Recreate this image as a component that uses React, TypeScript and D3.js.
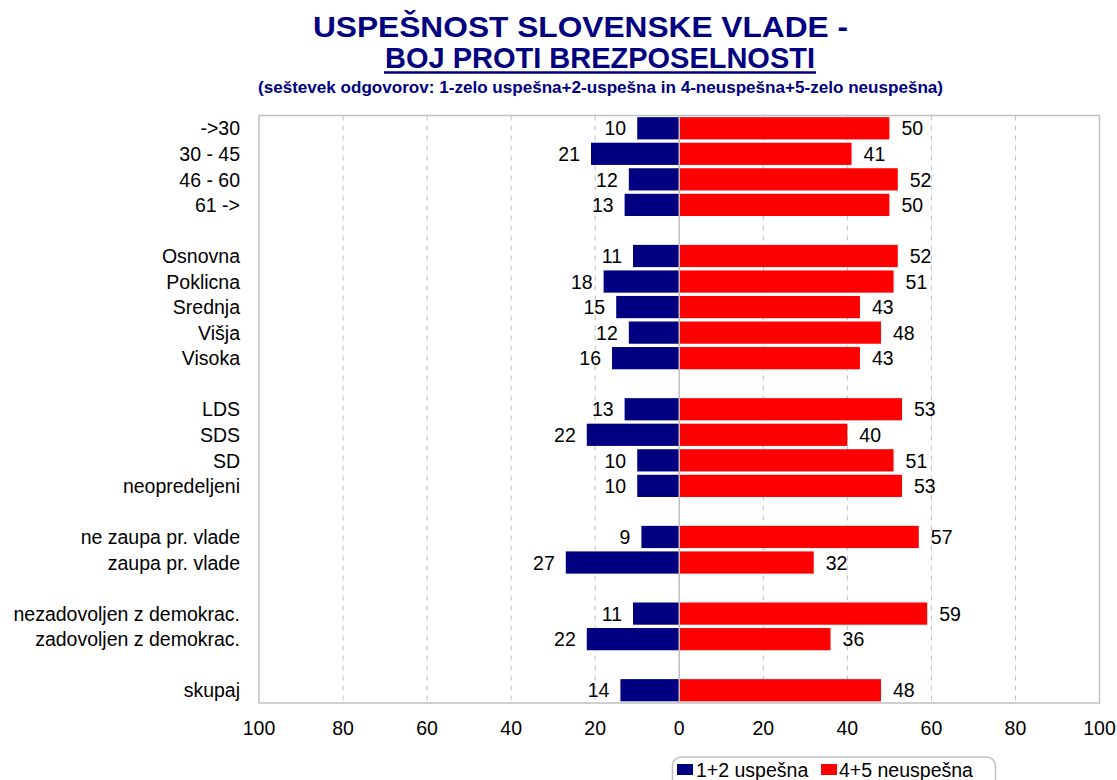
import React from "react";
import * as d3 from "d3";

const categories = [
  "->30", "30 - 45", "46 - 60", "61 ->", "",
  "Osnovna", "Poklicna", "Srednja", "Višja", "Visoka", "",
  "LDS", "SDS", "SD", "neopredeljeni", "",
  "ne zaupa pr. vlade", "zaupa pr. vlade", "",
  "nezadovoljen z demokrac.", "zadovoljen z demokrac.", "",
  "skupaj",
];
const uspesna: (number | null)[] = [
  10, 21, 12, 13, null,
  11, 18, 15, 12, 16, null,
  13, 22, 10, 10, null,
  9, 27, null,
  11, 22, null,
  14,
];
const neuspesna: (number | null)[] = [
  50, 41, 52, 50, null,
  52, 51, 43, 48, 43, null,
  53, 40, 51, 53, null,
  57, 32, null,
  59, 36, null,
  48,
];
const xTicks = [-100, -80, -60, -40, -20, 0, 20, 40, 60, 80, 100];
const titleLine1 = "USPEŠNOST SLOVENSKE VLADE -";
const titleLine2 = "BOJ PROTI BREZPOSELNOSTI";
const subtitle = "(seštevek odgovorov: 1-zelo uspešna+2-uspešna in 4-neuspešna+5-zelo neuspešna)";
const legendLabels = ["1+2 uspešna", "4+5 neuspešna"];

const NAVY = "#000080";
const RED = "#FF0000";
const GRID = "#c0c0c0";
const FONT = "'Liberation Sans', Arial, sans-serif";
const FS = 19.5;

export default function App() {
  const W = 1117, H = 780;
  const left = 259, right = 1099.5, top = 115.5, bottom = 703;
  const x = d3.scaleLinear().domain([-100, 100]).range([left, right]);
  const y = d3
    .scaleBand<number>()
    .domain(categories.map((_, i) => i))
    .range([top, bottom])
    .paddingInner(0.13)
    .paddingOuter(0.065);
  const bw = y.bandwidth();
  const x0 = x(0);

  return (
    <svg
      width={W}
      height={H}
      style={{ position: "absolute", left: 0, top: 0, background: "#fff" }}
      fontFamily={FONT}
    >
      {/* titles */}
      <text x={580.5} y={36.5} textAnchor="middle" fontSize={30} fontWeight="bold" fill={NAVY}
        textLength={535} lengthAdjust="spacingAndGlyphs">{titleLine1}</text>
      <text x={600} y={68} textAnchor="middle" fontSize={30} fontWeight="bold" fill={NAVY}
        textLength={430} lengthAdjust="spacingAndGlyphs">{titleLine2}</text>
      <line x1={384} x2={816} y1={72.5} y2={72.5} stroke={NAVY} strokeWidth={2.5} />
      <text x={600.5} y={93} textAnchor="middle" fontSize={16} fontWeight="bold" fill={NAVY}
        textLength={685} lengthAdjust="spacingAndGlyphs">{subtitle}</text>

      {/* grid */}
      {xTicks.filter((t) => Math.abs(t) !== 100 && t !== 0).map((t) => (
        <line key={"g" + t} x1={x(t)} x2={x(t)} y1={top} y2={bottom}
          stroke={GRID} strokeWidth={1} strokeDasharray="5,5" />
      ))}
      <rect x={left} y={top} width={right - left} height={bottom - top}
        fill="none" stroke={GRID} strokeWidth={1.5} />

      {/* bars */}
      {categories.map((c, i) => {
        const u = uspesna[i];
        const n = neuspesna[i];
        const yy = y(i)!;
        const cy = yy + bw / 2;
        return (
          <g key={"r" + i}>
            {u !== null && (
              <>
                <rect x={x(-u)} y={yy} width={x0 - x(-u)} height={bw} fill={NAVY} />
                <text x={x(-u) - 11} y={cy} dy="0.37em" textAnchor="end" fontSize={FS} fill="#000">{u}</text>
              </>
            )}
            {n !== null && (
              <>
                <rect x={x0} y={yy} width={x(n) - x0} height={bw} fill={RED} />
                <text x={x(n) + 12} y={cy} dy="0.37em" textAnchor="start" fontSize={FS} fill="#000">{n}</text>
              </>
            )}
            {c !== "" && (
              <text x={240} y={cy} dy="0.37em" textAnchor="end" fontSize={FS} fill="#000">{c}</text>
            )}
          </g>
        );
      })}
      <line x1={x0} x2={x0} y1={top} y2={bottom} stroke={GRID} strokeWidth={1.5} />

      {/* x axis labels */}
      {xTicks.map((t) => (
        <text key={"t" + t} x={x(t)} y={735} textAnchor="middle" fontSize={FS} fill="#000">
          {Math.abs(t)}
        </text>
      ))}

      {/* legend */}
      <rect x={672.5} y={757} width={323} height={32} rx={9} ry={9} fill="#fff" stroke={GRID} strokeWidth={1.5} />
      <rect x={677} y={764} width={16} height={11} fill={NAVY} />
      <text x={696} y={777} fontSize={FS} fill="#000">{legendLabels[0]}</text>
      <rect x={821} y={764} width={16} height={11} fill={RED} />
      <text x={839} y={777} fontSize={FS} fill="#000">{legendLabels[1]}</text>
    </svg>
  );
}
